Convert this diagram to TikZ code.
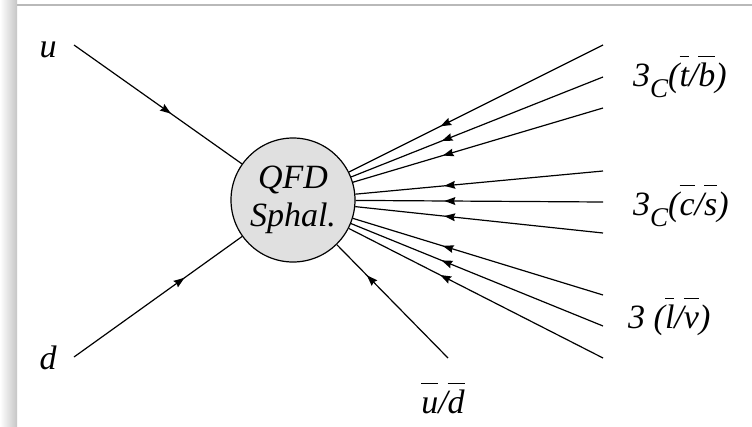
\documentclass[tikz,border=0pt]{standalone}
\usepackage{fontspec}
\setmainfont{Liberation Serif}
\usetikzlibrary{decorations.markings,arrows.meta}
\newcommand{\ob}[1]{\ensuremath{\overline{\mbox{\itshape\rule{0pt}{28pt}#1}}}}
\newcommand{\subC}{\raisebox{-11pt}{\fontsize{27}{27}\selectfont\itshape C}}
\tikzset{
  fermion/.style={draw, line width=1.2pt, postaction={decorate},
    decoration={markings, mark=at position #1 with
      {\fill (1.5pt,0pt) -- (-9.5pt,4pt) -- (-8pt,0pt) -- (-9.5pt,-4pt) -- cycle;}}},
  lbl/.style={font=\fontsize{34}{38}\selectfont\itshape, inner sep=0pt},
  blob/.style={circle, draw, line width=1.2pt, fill=gray!24, minimum size=124pt,
    inner sep=0pt, align=center, font=\fontsize{34}{38}\selectfont\itshape},
}
\begin{document}
\begin{tikzpicture}[x=1pt,y=-1pt]
\useasboundingbox (0,0) rectangle (752,426);
\fill[white] (0,0) rectangle (752,426);
\shade[left color=white, right color=gray!45] (0,0) rectangle (17,426);
\draw[gray!55, line width=1.5pt] (17,5) -- (752,5);

\node[blob] (s) at (293,200) {QFD\\Sphal.};

\coordinate (u0) at (74,45);
\coordinate (d0) at (74,357);
\coordinate (ud0) at (448,358);
\coordinate (r1) at (603,45);
\coordinate (r2) at (603,77);
\coordinate (r3) at (603,108);
\coordinate (r4) at (603,171);
\coordinate (r5) at (603,202);
\coordinate (r6) at (603,233);
\coordinate (r7) at (603,295);
\coordinate (r8) at (603,326);
\coordinate (r9) at (603,358);

\draw[fermion=0.57] (u0) -- (s);
\draw[fermion=0.65] (d0) -- (s);
\draw[fermion=0.72] (ud0) -- (s);
\foreach \r in {r1,r2,r3,r4,r5,r6,r7,r8,r9}
  \draw[fermion=0.635] (\r) -- (s);

\node[lbl, anchor=base] (lu) at (48,57) {u};
\node[lbl, anchor=base] (ld) at (48,369) {d};
\node[lbl, anchor=base] (lud) at (443,413) {\ob{u}/\ob{d}};
\node[lbl, anchor=base west] (l1) at (633,86) {3\subC(\ob{t}/\ob{b})};
\node[lbl, anchor=base west] (l2) at (633,215) {3\subC(\ob{c}/\ob{s})};
\node[lbl, anchor=base west] (l3) at (628,328) {3 (\ob{l}/\ob{ν})};
\end{tikzpicture}
\end{document}
